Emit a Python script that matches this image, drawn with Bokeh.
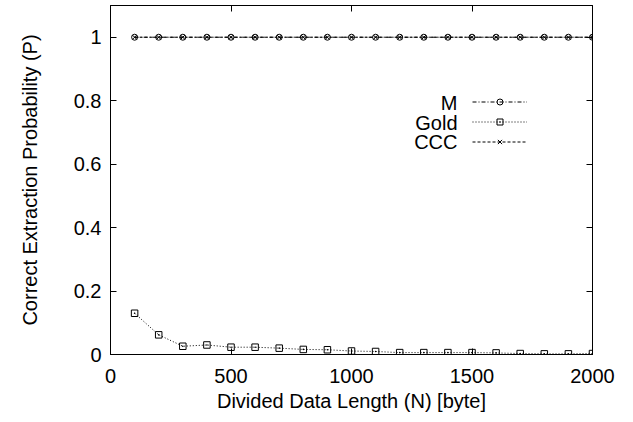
from bokeh.plotting import figure
from bokeh.models import (Range1d, FixedTicker, CustomJSTickFormatter, LinearAxis,
                          Legend, LegendItem, Label)
from bokeh.embed import file_html
from bokeh.resources import INLINE

# ---- data ----
N = [100, 200, 300, 400, 500, 600, 700, 800, 900, 1000,
     1100, 1200, 1300, 1400, 1500, 1600, 1700, 1800, 1900, 2000]
M = [1.0] * 20
Gold = [0.130, 0.062, 0.026, 0.030, 0.023, 0.023, 0.020, 0.016, 0.015, 0.011,
        0.0095, 0.006, 0.006, 0.006, 0.006, 0.005, 0.003, 0.002, 0.002, 0.003]
CCC = [1.0] * 20
series_names = ["M", "Gold", "CCC"]
x_ticks = [0, 500, 1000, 1500, 2000]
y_ticks = [0, 0.2, 0.4, 0.6, 0.8, 1.0]

FONT = "Liberation Sans"
FS = "20px"

p = figure(width=633, height=422, output_backend="svg", toolbar_location=None,
           x_range=Range1d(0, 2000), y_range=Range1d(0, 1.1),
           min_border_left=110, min_border_right=41, min_border_top=5,
           min_border_bottom=68, x_axis_type=None, y_axis_type=None)
p.grid.visible = False
p.outline_line_color = "black"
p.outline_line_width = 1
p.background_fill_color = "white"
p.border_fill_color = "white"

fmt = CustomJSTickFormatter(code="return String(Math.round(tick*10)/10);")
blank = CustomJSTickFormatter(code="return '';")


def style_axis(ax, show_labels):
    ax.axis_line_color = "black"
    ax.major_tick_line_color = "black"
    ax.major_tick_in = 6
    ax.major_tick_out = 0
    ax.minor_tick_line_color = None
    ax.major_label_text_font = FONT
    ax.major_label_text_font_size = FS if show_labels else "0px"
    ax.major_label_text_color = "black"
    ax.axis_label_text_font = FONT
    ax.axis_label_text_font_size = FS
    ax.axis_label_text_font_style = "normal"
    ax.axis_label_text_color = "black"
    if not show_labels:
        ax.major_label_standoff = 0


xb = LinearAxis(ticker=FixedTicker(ticks=x_ticks), axis_label="Divided Data Length (N) [byte]")
style_axis(xb, True)
xb.major_label_standoff = 14
xb.axis_label_standoff = 4
p.add_layout(xb, "below")

yl = LinearAxis(ticker=FixedTicker(ticks=y_ticks), formatter=fmt,
                axis_label="Correct Extraction Probability (P)")
style_axis(yl, True)
yl.major_label_standoff = 9
yl.axis_label_standoff = 30
p.add_layout(yl, "left")

xt = LinearAxis(ticker=FixedTicker(ticks=x_ticks), formatter=blank)
style_axis(xt, False)
p.add_layout(xt, "above")

yr = LinearAxis(ticker=FixedTicker(ticks=y_ticks), formatter=blank)
style_axis(yr, False)
p.add_layout(yr, "right")

# ---- series ----
l_m = p.line(N, M, line_color="black", line_width=1, line_dash="4 2 1 2")
s_m = p.scatter(N, M, marker="circle", size=6, line_color="black", fill_color=None, line_width=1)
l_g = p.line(N, Gold, line_color="black", line_width=1, line_dash="1 2")
s_g = p.scatter(N, Gold, marker="square_dot", size=6.5, line_color="black", fill_color=None, line_width=1)
l_c = p.line(N, CCC, line_color="black", line_width=1, line_dash="3 2")
s_c = p.scatter(N, CCC, marker="x", size=6, line_color="black", line_width=1)

items = [LegendItem(label=" ", renderers=[l_m, s_m]),
         LegendItem(label=" ", renderers=[l_g, s_g]),
         LegendItem(label=" ", renderers=[l_c, s_c])]
leg = Legend(items=items, location=(362, 205), glyph_width=55, glyph_height=15,
             label_width=0, label_height=15, label_standoff=0, label_text_font_size="8px",
             spacing=5, padding=0, margin=0, border_line_alpha=0, background_fill_alpha=0)
p.add_layout(leg, "center")

row_y = [252, 232, 213]
for name, yy in zip(series_names, row_y):
    p.add_layout(Label(x=347, y=yy, x_units="screen", y_units="screen", text=name,
                       text_align="right", text_baseline="middle", text_font=FONT,
                       text_font_size=FS, text_color="black"))

open("out.html", "w").write(file_html(p, INLINE))
